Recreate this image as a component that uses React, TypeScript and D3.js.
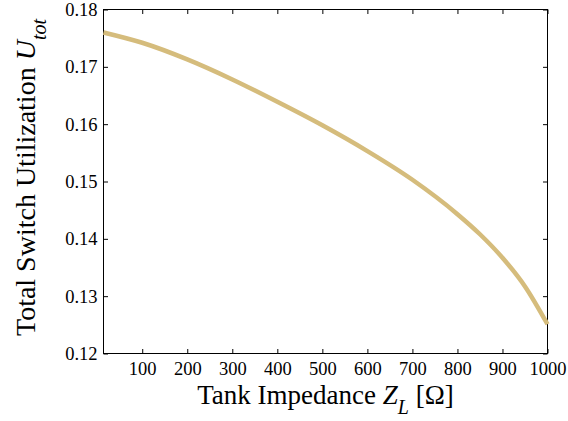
import React, { useEffect, useRef } from 'react';
import * as d3 from 'd3';

// impedance Z_L [Ohm] and total switch utilization
const impedance = [14, 100, 200, 300, 400, 500, 600, 700, 800, 850, 900, 950, 1000];
const utilization = [0.176, 0.1742, 0.1713, 0.1678, 0.1639, 0.1598, 0.1553, 0.1503, 0.1443, 0.1408, 0.1367, 0.1317, 0.1251];
const xTicks = [100, 200, 300, 400, 500, 600, 700, 800, 900, 1000];
const yTicks = [0.12, 0.13, 0.14, 0.15, 0.16, 0.17, 0.18];

const W = 568;
const H = 421;

const App = () => {
  const ref = useRef<SVGSVGElement>(null);

  useEffect(() => {
    const svg = d3.select(ref.current);
    svg.selectAll('*').remove();

    const margin = { top: 9.5, right: 20.5, bottom: 67.5, left: 103.5 };
    const w = W - margin.left - margin.right;
    const h = H - margin.top - margin.bottom;
    const font = '"Liberation Serif", "Times New Roman", serif';

    const x = d3.scaleLinear().domain([14, 1000]).range([0, w]);
    const y = d3.scaleLinear().domain([0.12, 0.18]).range([h, 0]);

    const g = svg.append('g').attr('transform', `translate(${margin.left},${margin.top})`);

    const tick = 4.5;
    // axes with inward ticks on all four sides
    const bottom = g.append('g').attr('transform', `translate(0,${h})`)
      .call(d3.axisBottom(x).tickValues(xTicks).tickSizeInner(-tick).tickSizeOuter(0).tickPadding(8).tickFormat(d3.format('d')));
    const left = g.append('g')
      .call(d3.axisLeft(y).tickValues(yTicks).tickSizeInner(-tick).tickSizeOuter(0).tickPadding(6).tickFormat(d3.format('.2f')));
    const top = g.append('g')
      .call(d3.axisTop(x).tickValues(xTicks).tickSizeInner(-tick).tickSizeOuter(0).tickFormat(() => ''));
    const right = g.append('g').attr('transform', `translate(${w},0)`)
      .call(d3.axisRight(y).tickValues(yTicks).tickSizeInner(-tick).tickSizeOuter(0).tickFormat(() => ''));

    [bottom, left, top, right].forEach((a) => {
      a.attr('font-family', font);
      a.select('.domain').remove();
      a.selectAll('line').attr('stroke', '#000');
      a.selectAll('text').attr('fill', '#000').attr('font-family', font).attr('font-size', 18.5);
    });

    // box
    g.append('rect').attr('width', w).attr('height', h).attr('fill', 'none').attr('stroke', '#000').attr('stroke-width', 1);

    const line = d3.line<number>()
      .x((_, i) => x(impedance[i]))
      .y((d) => y(d))
      .curve(d3.curveMonotoneX);

    g.append('path')
      .datum(utilization)
      .attr('d', line)
      .attr('fill', 'none')
      .attr('stroke', '#d5bc7c')
      .attr('stroke-width', 4.5);

    // x label
    const xl = svg.append('text')
      .attr('x', margin.left + w / 2)
      .attr('y', 404)
      .attr('text-anchor', 'middle')
      .attr('font-family', font)
      .attr('font-size', 27)
      .attr('fill', '#000');
    xl.append('tspan').text('Tank Impedance  ');
    xl.append('tspan').attr('font-style', 'italic').text('Z');
    xl.append('tspan').attr('font-style', 'italic').attr('dy', 10).attr('font-size', 20).text('L');
    xl.append('tspan').attr('dy', -10).text(' [Ω]');

    // y label
    const yl = svg.append('text')
      .attr('transform', `translate(35,${margin.top + h / 2 - 4}) rotate(-90)`)
      .attr('text-anchor', 'middle')
      .attr('font-family', font)
      .attr('font-size', 28)
      .attr('fill', '#000');
    yl.append('tspan').text('Total Switch Utilization  ');
    yl.append('tspan').attr('font-style', 'italic').text('U');
    yl.append('tspan').attr('font-style', 'italic').attr('dy', 11).attr('font-size', 20).text('tot');
  }, []);

  return (
    <svg ref={ref} width={W} height={H} style={{ position: 'absolute', top: 0, left: 0 }} />
  );
};

export default App;
